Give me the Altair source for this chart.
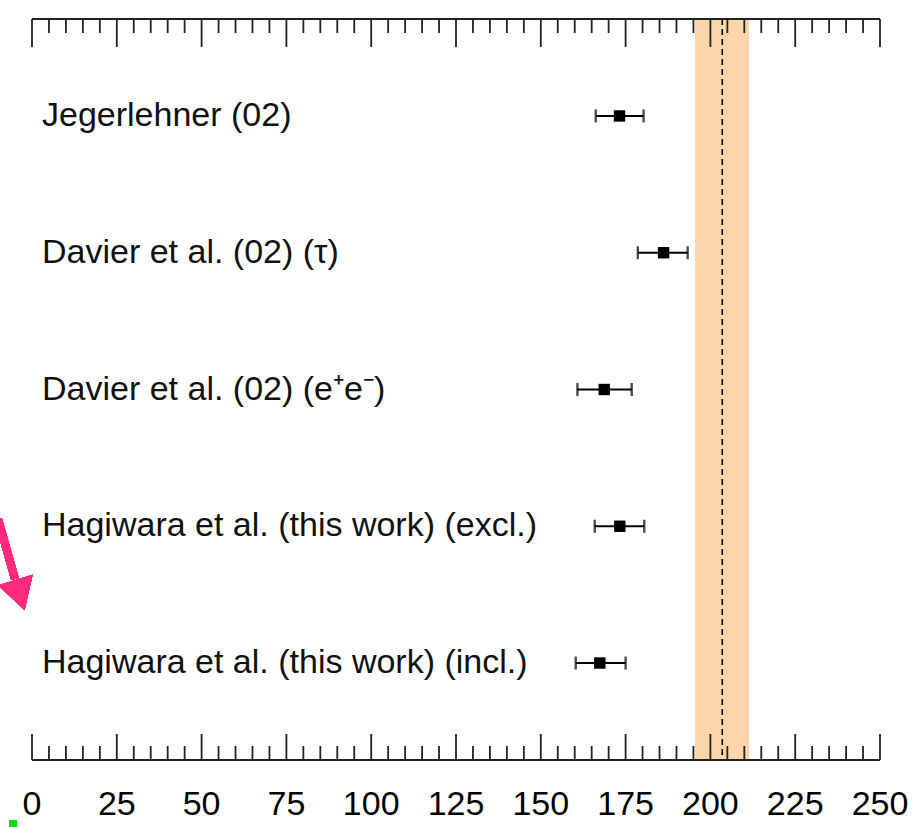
import altair as alt
import pandas as pd

# ---- data ----
labels = [
    "Jegerlehner (02)",
    "Davier et al. (02) (τ)",
    "Davier et al. (02) (e⁺e⁻)",
    "Hagiwara et al. (this work) (excl.)",
    "Hagiwara et al. (this work) (incl.)",
]
centers = [173.2, 186.2, 168.7, 173.3, 167.4]
lows = [166.2, 178.6, 160.8, 165.9, 160.3]
highs = [180.3, 193.3, 176.8, 180.5, 175.0]

band_lo = [195.5]
band_hi = [211.4]
band_mid = [203.5]

major_ticks = [0, 25, 50, 75, 100, 125, 150, 175, 200, 225, 250]
minor_ticks = [v for v in range(0, 251, 5) if v % 25 != 0]

W, H = 848, 741
FONT = "Liberation Sans"

df = pd.DataFrame({"label": labels, "row": list(range(len(labels))),
                   "c": centers, "lo": lows, "hi": highs})
band_df = pd.DataFrame({"lo": band_lo, "hi": band_hi, "mid": band_mid})
maj_df = pd.DataFrame({"v": major_ticks, "t": [str(v) for v in major_ticks]})
min_df = pd.DataFrame({"v": minor_ticks})

xscale = alt.Scale(domain=[0, 250], nice=False, zero=False)
PAD = 0.709
yscale = alt.Scale(domain=[len(labels) - 1 + PAD, -PAD], nice=False, zero=False)

X = lambda f: alt.X(f, type="quantitative", scale=xscale, axis=None)
Y = alt.Y("row:Q", scale=yscale, axis=None)

band = alt.Chart(band_df).mark_rect(color="#fdd5ab").encode(
    x=X("lo"), x2="hi", y=alt.value(0), y2=alt.value(H)
)
mid = alt.Chart(band_df).mark_rule(color="black", strokeWidth=1.6, strokeDash=[6, 4]).encode(
    x=X("mid"), y=alt.value(0), y2=alt.value(H)
)

tick_color = "#222222"
top_major = alt.Chart(maj_df).mark_rule(color=tick_color, strokeWidth=1.8).encode(
    x=X("v"), y=alt.value(0), y2=alt.value(28)
)
top_minor = alt.Chart(min_df).mark_rule(color=tick_color, strokeWidth=1.8).encode(
    x=X("v"), y=alt.value(0), y2=alt.value(14)
)
bot_major = alt.Chart(maj_df).mark_rule(color=tick_color, strokeWidth=1.8).encode(
    x=X("v"), y=alt.value(H), y2=alt.value(H - 26)
)
bot_minor = alt.Chart(min_df).mark_rule(color=tick_color, strokeWidth=1.8).encode(
    x=X("v"), y=alt.value(H), y2=alt.value(H - 14)
)
tick_labels = alt.Chart(maj_df).mark_text(
    align="center", baseline="alphabetic", font=FONT, fontSize=34, color="black"
).encode(x=X("v"), y=alt.value(H + 55), text="t:N")

top_line = alt.Chart(maj_df).mark_rule(color=tick_color, strokeWidth=2).encode(
    x=alt.value(0), x2=alt.value(W), y=alt.value(0)
)
bot_line = alt.Chart(maj_df).mark_rule(color=tick_color, strokeWidth=2).encode(
    x=alt.value(0), x2=alt.value(W), y=alt.value(H)
)

err = alt.Chart(df).mark_rule(color="black", strokeWidth=2).encode(x=X("lo"), x2="hi", y=Y)
cap_lo = alt.Chart(df).mark_tick(color="black", orient="vertical", size=13, thickness=2.4).encode(x=X("lo"), y=Y)
cap_hi = alt.Chart(df).mark_tick(color="black", orient="vertical", size=13, thickness=2.4).encode(x=X("hi"), y=Y)
pts = alt.Chart(df).mark_square(color="black", size=130, opacity=1).encode(x=X("c"), y=Y)

txt = alt.Chart(df).mark_text(align="left", baseline="middle", font=FONT, fontSize=34,
                              color="#111111").encode(x=alt.value(10), y=Y, text="label:N")

# annotation overlays (pink arrow, green marker) outside the plot
arrow_shaft = alt.Chart(maj_df).mark_rule(color="#fe2a7c", strokeWidth=8).encode(
    x=alt.value(-34), x2=alt.value(-17), y=alt.value(500), y2=alt.value(560)
)
arrow_head = alt.Chart(maj_df).mark_point(shape="triangle-down", filled=True, color="#fe2a7c",
                                          opacity=1, size=1300, angle=343).encode(
    x=alt.value(-12), y=alt.value(576)
)
green = alt.Chart(maj_df).mark_square(color="#1ed61e", size=49, opacity=1).encode(
    x=alt.value(-19), y=alt.value(805)
)

chart = alt.layer(
    band, mid, top_major, top_minor, bot_major, bot_minor, top_line, bot_line, tick_labels,
    err, cap_lo, cap_hi, pts, txt, arrow_shaft, arrow_head, green
).properties(
    width=W, height=H,
    autosize=alt.AutoSizeParams(type="none"),
    padding={"left": 32, "top": 19, "right": 41, "bottom": 67},
    background="white",
).configure_view(stroke=None, clip=False)

chart.save("out.html", embed_options={"renderer": "svg", "actions": False})
